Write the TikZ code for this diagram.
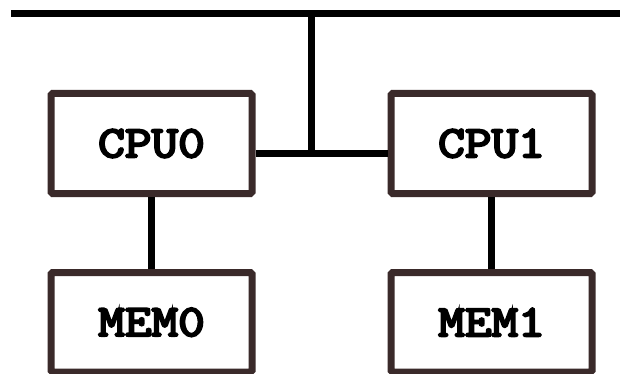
\documentclass[tikz,border=0pt]{standalone}
\usepackage{fontspec}
\usepackage{graphicx}
\newfontfamily\labelfont[FakeBold=4.5]{Latin Modern Mono}
\definecolor{boxline}{RGB}{58,42,42}
\tikzset{
  unitbox/.style={draw=boxline, line width=7pt, rounded corners=1.5pt,
    minimum width=201pt, minimum height=100pt, inner sep=0pt,
    font=\fontsize{45}{45}\labelfont\selectfont},
  wire/.style={draw=black, line width=6.5pt}
}
\newcommand{\boxlabel}[1]{\scalebox{1.15}[1]{#1}}
\begin{document}
\begin{tikzpicture}[x=1pt,y=-1pt]
\useasboundingbox (0,0) rectangle (620,374);
\fill[white] (0,0) rectangle (620,374);
\coordinate (busl) at (11,13.5);
\coordinate (busr) at (622,13.5);
\coordinate (tap) at (311.5,13.5);
\coordinate (join) at (311.5,153.5);
\node[unitbox] (cpu0) at (151.5,143.5) {\boxlabel{CPU0}};
\node[unitbox] (cpu1) at (491.5,143.5) {\boxlabel{CPU1}};
\node[unitbox, minimum height=99.5pt] (mem0) at (151.5,322.25) {\boxlabel{MEM0}};
\node[unitbox, minimum height=99.5pt] (mem1) at (491.5,322.25) {\boxlabel{MEM1}};
\draw[wire] (busl) -- (busr);
\draw[wire] (tap) -- (join);
\draw[wire] (cpu0.east |- join) -- (cpu1.west |- join);
\draw[wire] (cpu0.south) -- (mem0.north);
\draw[wire] (cpu1.south) -- (mem1.north);
\end{tikzpicture}
\end{document}
